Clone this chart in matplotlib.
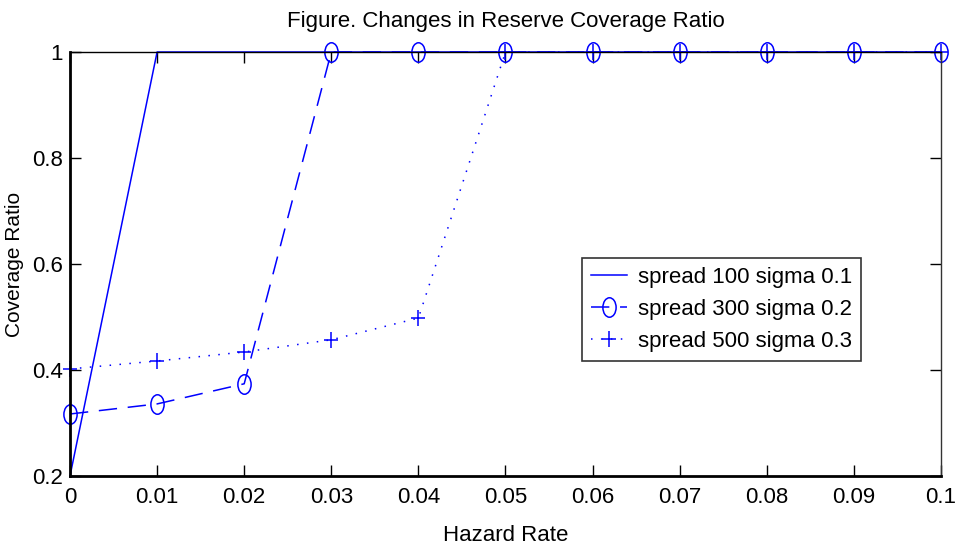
import matplotlib
matplotlib.use('Agg')
import matplotlib.pyplot as plt
from matplotlib.path import Path
from matplotlib.transforms import Affine2D

# Dados
hazard = [0, 0.01, 0.02, 0.03, 0.04, 0.05, 0.06, 0.07, 0.08, 0.09, 0.1]
spread100 = [0.2, 1, 1, 1, 1, 1, 1, 1, 1, 1, 1]
spread300 = [0.317, 0.336, 0.374, 1, 1, 1, 1, 1, 1, 1, 1]
spread500 = [0.402, 0.417, 0.434, 0.457, 0.498, 1, 1, 1, 1, 1, 1]
labels = ['spread 100 sigma 0.1', 'spread 300 sigma 0.2', 'spread 500 sigma 0.3']
xticklabels = ['0', '0.01', '0.02', '0.03', '0.04', '0.05', '0.06', '0.07', '0.08', '0.09', '0.1']
yticks = [0.2, 0.4, 0.6, 0.8, 1]
yticklabels = ['0.2', '0.4', '0.6', '0.8', '1']

plt.rcParams['font.family'] = ['Liberation Sans', 'DejaVu Sans']

# marcadores achatados (como no original)
elipse = Path.unit_circle().transformed(Affine2D().scale(0.68, 1.0))
cruz = Path([(-0.8, 0), (0.8, 0), (0, -1), (0, 1)],
            [Path.MOVETO, Path.LINETO, Path.MOVETO, Path.LINETO])

fig = plt.figure(figsize=(9.58, 5.55), dpi=100)
ax = fig.add_axes([70 / 958, 1 - 476 / 555, 871 / 958, 424 / 555])

azul = '#0000ff'
ax.plot(hazard, spread100, '-', color=azul, lw=1.1, label=labels[0], clip_on=False)
ax.plot(hazard, spread300, '--', color=azul, lw=1.1, marker=elipse, ms=14,
        mfc='none', mec=azul, mew=1.1, dashes=(12, 7), label=labels[1], clip_on=False)
ax.plot(hazard, spread500, ':', color=azul, lw=1.1, marker=cruz, ms=12,
        mfc='none', mec=azul, mew=1.1, dashes=(1, 5.5), label=labels[2], clip_on=False)

ax.set_xlim(0, 0.1)
ax.set_ylim(0.2, 1)
ax.set_xticks(hazard)
ax.set_xticklabels(xticklabels)
ax.set_yticks(yticks)
ax.set_yticklabels(yticklabels)
ax.tick_params(direction='in', length=8, width=1, labelsize=16, top=True, right=True)
ax.tick_params(axis='x', pad=8)
ax.tick_params(axis='y', pad=5)
ax.spines['left'].set_linewidth(2)
ax.spines['bottom'].set_linewidth(2)
ax.spines['top'].set_linewidth(1)
ax.spines['right'].set_linewidth(1)
ax.spines['right'].set_color('#333333')

ax.set_title('Figure. Changes in Reserve Coverage Ratio', fontsize=16, pad=18)
ax.set_xlabel('Hazard Rate', fontsize=16, labelpad=12)
ax.set_ylabel('Coverage Ratio', fontsize=15, labelpad=6)

leg = ax.legend(loc='upper left', bbox_to_anchor=(0.588, 0.514), fontsize=16,
                frameon=True, fancybox=False, edgecolor='black', handlelength=1.6,
                borderpad=0.4, labelspacing=0.5, handletextpad=0.5, numpoints=1,
                borderaxespad=0)
leg.get_frame().set_linewidth(1.2)

fig.savefig('out.png', dpi=100)
